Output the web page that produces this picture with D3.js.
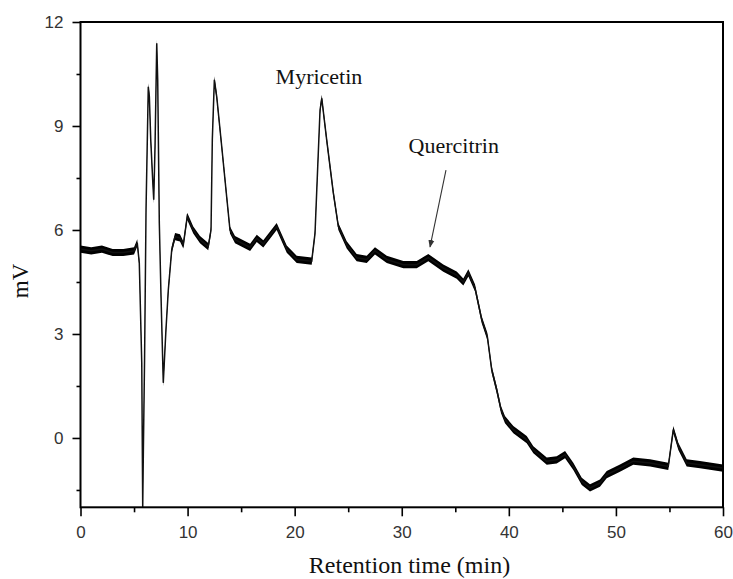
<!DOCTYPE html>
<html>
<head>
<meta charset="utf-8">
<script src="https://cdn.jsdelivr.net/npm/d3@7"></script>
<style>
  html, body { margin: 0; padding: 0; background: #ffffff; }
  svg { display: block; }
</style>
</head>
<body>
<svg id="chart" width="733" height="579"></svg>
<script>
// ---- data ----
const timeMin = [0, 1, 2, 3, 4, 5, 5.30, 5.49, 5.72, 5.81, 5.87, 5.98, 6.12, 6.24, 6.33, 6.43, 6.56, 6.74, 6.84, 6.96,
  7.12, 7.21, 7.36, 7.52, 7.73, 7.98, 8.20, 8.52, 8.83, 9.29, 9.60, 9.97, 10.53, 11.16, 11.93, 12.19, 12.31, 12.50,
  12.72, 13.19, 13.65, 13.96, 14.43, 15.84, 16.46, 17.07, 18.32, 19.26, 20.19, 21.59, 21.90, 22.15, 22.37, 22.53,
  22.99, 23.61, 24.08, 24.86, 25.79, 26.73, 27.50, 28.60, 30.15, 31.40, 32.48, 33.88, 35.13, 35.75, 36.22, 36.84,
  37.47, 37.99, 38.40, 38.87, 39.27, 39.64, 40.42, 41.67, 42.29, 43.54, 44.47, 45.25, 46.02, 46.81, 47.58, 48.51,
  49.14, 50.38, 51.62, 53.19, 54.89, 55.36, 55.83, 56.61, 57.85, 60];
const signalMV = [5.45, 5.40, 5.45, 5.35, 5.35, 5.40, 5.63, 5.05, 2.17, -2.0, -0.40, 2.20, 6.58, 8.60, 10.13, 9.85, 8.60, 7.45, 6.87, 8.40,
  11.39, 10.33, 6.20, 4.08, 1.59, 3.12, 4.27, 5.43, 5.81, 5.77, 5.57, 6.39, 6.00, 5.72, 5.52, 6.00, 8.60, 10.33,
  9.85, 8.40, 6.96, 6.00, 5.72, 5.50, 5.76, 5.60, 6.10, 5.45, 5.15, 5.10, 5.90, 7.80, 9.46, 9.80,
  8.60, 7.07, 6.10, 5.57, 5.20, 5.15, 5.40, 5.15, 5.00, 5.00, 5.20, 4.90, 4.70, 4.50, 4.76, 4.33,
  3.41, 2.93, 1.97, 1.39, 0.82, 0.53, 0.24, -0.05, -0.34, -0.67, -0.63, -0.48, -0.82, -1.25, -1.44, -1.30,
  -1.06, -0.87, -0.67, -0.72, -0.82, 0.24, -0.24, -0.72, -0.77, -0.87];

const xMajorTicks = [0, 10, 20, 30, 40, 50, 60];
const xMinorTicks = [5, 15, 25, 35, 45, 55];
const yMajorTicks = [0, 3, 6, 9, 12];
const yMinorTicks = [-1.5, 1.5, 4.5, 7.5, 10.5];

const labelNames = ["Myricetin", "Quercitrin"];
const labelTime = [22.27, 34.86];
const labelMV = [10.2, 8.22];
const arrowFrom = [34.13, 7.73];
const arrowTo = [32.64, 5.51];

const xTitle = "Retention time (min)";
const yTitle = "mV";

// ---- layout ----
const svg = d3.select("#chart");
const pLeft = 80.5, pRight = 723, pTop = 22, pBottom = 507.3;
const x = d3.scaleLinear().domain([0, 60]).range([pLeft, pRight]);
const y = d3.scaleLinear().domain([-2, 12]).range([pBottom, pTop]);

svg.append("rect").attr("width", 733).attr("height", 579).attr("fill", "#ffffff");

const defs = svg.append("defs");
defs.append("clipPath").attr("id", "plotclip")
  .append("rect").attr("x", pLeft).attr("y", pTop).attr("width", pRight - pLeft).attr("height", pBottom - pTop);
defs.append("marker").attr("id", "arrowhead")
  .attr("viewBox", "0 0 10 10").attr("refX", 9).attr("refY", 5)
  .attr("markerWidth", 7).attr("markerHeight", 7).attr("orient", "auto")
  .append("path").attr("d", "M0,1 L10,5 L0,9 Z").attr("fill", "#333");

const pts = timeMin.map((t, i) => [t, signalMV[i]]);
const plot = svg.append("g").attr("clip-path", "url(#plotclip)");

// noise band (vertical thickness), mimics noisy detector trace
const band = d3.area().x(d => x(d[0])).y0(d => y(d[1]) + 3.6).y1(d => y(d[1]) - 3.6);
plot.append("path").datum(pts).attr("d", band).attr("fill", "#000");
const line = d3.line().x(d => x(d[0])).y(d => y(d[1]));
plot.append("path").datum(pts).attr("d", line)
  .attr("fill", "none").attr("stroke", "#111").attr("stroke-width", 1.5);

// ---- axes ----
const tickFont = "'Liberation Sans', Arial, sans-serif";
svg.append("g").attr("transform", `translate(0,${pBottom})`)
  .call(d3.axisBottom(x).tickValues(xMajorTicks).tickFormat(d3.format("d")).tickSize(9).tickPadding(10));
svg.append("g").attr("transform", `translate(0,${pBottom})`)
  .call(d3.axisBottom(x).tickValues(xMinorTicks).tickFormat("").tickSize(5));
svg.append("g").attr("transform", `translate(${pLeft},0)`)
  .call(d3.axisLeft(y).tickValues(yMajorTicks).tickFormat(d3.format("d")).tickSize(8).tickPadding(9));
svg.append("g").attr("transform", `translate(${pLeft},0)`)
  .call(d3.axisLeft(y).tickValues(yMinorTicks).tickFormat("").tickSize(4));

svg.selectAll(".domain").remove();
svg.selectAll(".tick line").attr("stroke", "#000").attr("stroke-width", 1.6);
svg.selectAll(".tick text").attr("font-family", tickFont).attr("font-size", 17).attr("fill", "#333");

// frame
svg.append("rect").attr("x", pLeft).attr("y", pTop).attr("width", pRight - pLeft).attr("height", pBottom - pTop)
  .attr("fill", "none").attr("stroke", "#000").attr("stroke-width", 2);

// ---- titles ----
const serif = "'Liberation Serif', 'Times New Roman', serif";
svg.append("text").attr("x", 409.5).attr("y", 573)
  .attr("text-anchor", "middle").attr("font-family", serif).attr("font-size", 24).attr("fill", "#111")
  .text(xTitle);
svg.append("text").attr("transform", "translate(28,281) rotate(-90)")
  .attr("text-anchor", "middle").attr("font-family", serif).attr("font-size", 23).attr("fill", "#111")
  .text(yTitle);

// ---- annotations ----
labelNames.forEach((name, i) => {
  svg.append("text").attr("x", x(labelTime[i])).attr("y", y(labelMV[i]))
    .attr("text-anchor", "middle").attr("font-family", serif).attr("font-size", 22).attr("fill", "#111")
    .text(name);
});
svg.append("line")
  .attr("x1", x(arrowFrom[0])).attr("y1", y(arrowFrom[1]))
  .attr("x2", x(arrowTo[0])).attr("y2", y(arrowTo[1]))
  .attr("stroke", "#333").attr("stroke-width", 1.1).attr("marker-end", "url(#arrowhead)");
</script>
</body>
</html>
